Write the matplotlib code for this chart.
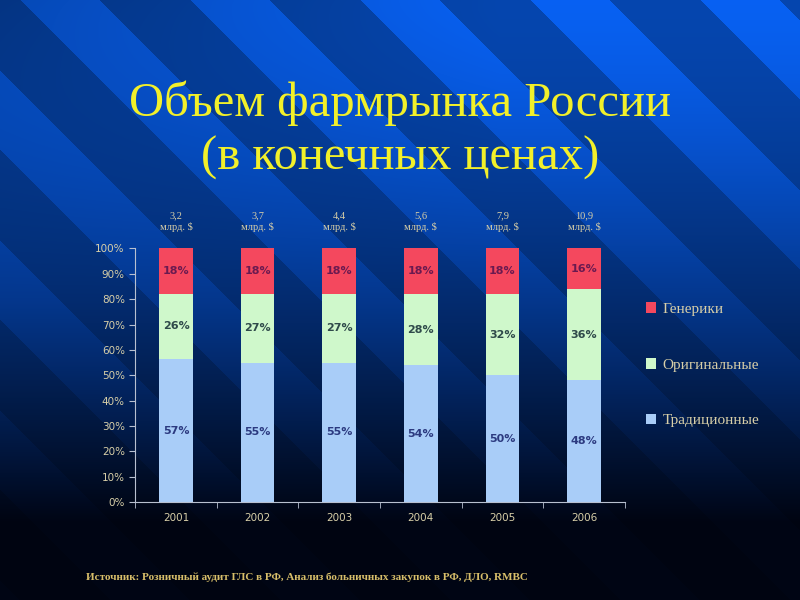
import matplotlib
matplotlib.use("Agg")
import matplotlib.pyplot as plt
import numpy as np
from matplotlib.patches import Patch

years = ["2001", "2002", "2003", "2004", "2005", "2006"]
totals = ["3,2", "3,7", "4,4", "5,6", "7,9", "10,9"]
trad = [57, 55, 55, 54, 50, 48]
orig = [26, 27, 27, 28, 32, 36]
gen = [18, 18, 18, 18, 18, 16]
series_names = ["Генерики", "Оригинальные", "Традиционные"]

c_gen = "#f4485e"
c_orig = "#cff8cb"
c_trad = "#a9cdf8"
txt_col = "#d8cfa8"

fig = plt.figure(figsize=(8, 6), dpi=100)

# фон: синий градиент с диагональными полосами
bg = fig.add_axes([0, 0, 1, 1])
h, w = 600, 800
yy, xx = np.mgrid[0:h, 0:w]
t = yy / h
top = np.array([0.03, 0.38, 0.95])
bot = np.array([0.0, 0.02, 0.08])
k = np.clip(t * 1.15, 0, 1) ** 1.4
img = top[None, None, :] * (1 - k[..., None]) + bot[None, None, :] * k[..., None]
diag = (xx - yy + 40) % 170
stripe = ((diag > 60) & (diag < 140)).astype(float)
fade = np.clip(1 - t * 1.05, 0, 1)
img = img * (1 - 0.28 * (1 - stripe[..., None]) * (0.5 + 0.5 * fade[..., None]))
left_dark = np.clip(1 - xx / 500, 0, 1) * np.clip(1 - t * 2, 0, 1)
img = img * (1 - 0.25 * left_dark[..., None])
bg.imshow(np.clip(img, 0, 1), aspect="auto", extent=[0, 1, 0, 1], origin="upper")
bg.set_axis_off()

fig.text(0.5, 0.828, "Объем фармрынка России", ha="center", va="center",
         fontsize=35, color="#f2f02a", family="Liberation Serif")
fig.text(0.5, 0.737, "(в конечных ценах)", ha="center", va="center",
         fontsize=35, color="#f2f02a", family="Liberation Serif")

ax = fig.add_axes([0.169, 0.163, 0.612, 0.423])
ax.patch.set_alpha(0)

data = np.array([trad, orig, gen], dtype=float)
frac = data / data.sum(axis=0) * 100
x = np.arange(len(years))
bw = 0.41
ax.bar(x, frac[0], bw, color=c_trad, edgecolor="none")
ax.bar(x, frac[1], bw, bottom=frac[0], color=c_orig, edgecolor="none")
ax.bar(x, frac[2], bw, bottom=frac[0] + frac[1], color=c_gen, edgecolor="none")

for i in range(len(years)):
    ax.text(x[i], frac[0][i] * 0.5, f"{trad[i]}%", ha="center", va="center",
            fontsize=8, fontweight="bold", color="#2c3a80")
    ax.text(x[i], frac[0][i] + frac[1][i] * 0.5, f"{orig[i]}%", ha="center", va="center",
            fontsize=8, fontweight="bold", color="#2f4a4a")
    ax.text(x[i], frac[0][i] + frac[1][i] + frac[2][i] * 0.5, f"{gen[i]}%", ha="center",
            va="center", fontsize=8, fontweight="bold", color="#6a1a50")
    ax.text(x[i], 110.5, f"{totals[i]}\nмлрд. $", ha="center", va="center", fontsize=7.5,
            color=txt_col, family="Liberation Serif", linespacing=1.3)

ax.set_xlim(-0.5, len(years) - 0.5)
ax.set_ylim(0, 100)
ax.set_yticks(np.arange(0, 101, 10))
ax.set_yticklabels([f"{v}%" for v in range(0, 101, 10)])
ax.set_xticks(x)
ax.set_xticklabels(years)
ax.set_xticks(np.arange(-0.5, len(years)), minor=True)
ax.tick_params(axis="x", which="major", length=0, pad=8, labelsize=7.5, labelcolor=txt_col)
ax.tick_params(axis="x", which="minor", length=4, color="#b8c0d0")
ax.tick_params(axis="y", length=4, color="#b8c0d0", labelsize=7.5, labelcolor=txt_col)
for s in ["top", "right"]:
    ax.spines[s].set_visible(False)
for s in ["left", "bottom"]:
    ax.spines[s].set_color("#b8c0d0")

handles = [Patch(facecolor=c, edgecolor="none") for c in [c_gen, c_orig, c_trad]]
leg = fig.legend(handles, series_names, loc="center left", bbox_to_anchor=(0.79, 0.392),
                 frameon=False, labelspacing=2.75, handlelength=0.7, handleheight=0.7,
                 handletextpad=0.4, prop={"family": "Liberation Serif", "size": 11})
for tx in leg.get_texts():
    tx.set_color(txt_col)

fig.text(0.107, 0.038, "Источник: Розничный аудит ГЛС в РФ, Анализ больничных закупок в РФ, ДЛО, RMBC",
         fontsize=8, fontweight="bold", color="#d8bf6a", family="Liberation Serif", va="center")

fig.savefig("out.png", dpi=100)
